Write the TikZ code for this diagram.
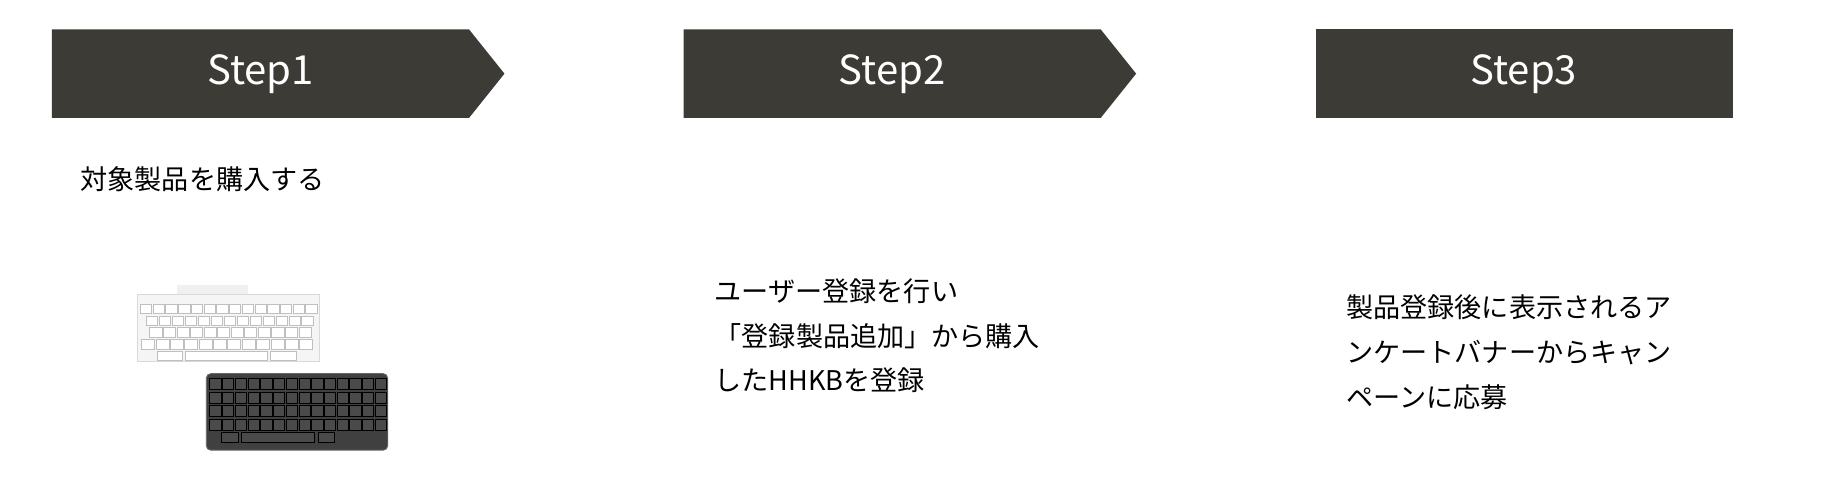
\documentclass[tikz,border=0pt]{standalone}
\usepackage{fontspec}
\setmainfont{Noto Sans CJK JP}
\usepackage{tikz}
\definecolor{stepgray}{HTML}{3D3B36}
\definecolor{keygray}{HTML}{4A4A4A}
\tikzset{
  stepbar/.style={fill=stepgray, draw=none},
  steplabel/.style={text=white, font=\fontsize{17}{20}\selectfont},
  desc/.style={anchor=north west, align=left, font=\fontsize{11.5}{19}\selectfont, inner sep=0pt},
  whitekey/.style={fill=white, draw=black!25, line width=0.2pt},
  blackkey/.style={fill=keygray, draw=black, line width=0.3pt}
}
\begin{document}
\begin{tikzpicture}[x=0.5pt, y=-0.5pt]
    \useasboundingbox (0,0) rectangle (1568,412);

    % step bars
    \fill[stepbar] (44,25) -- (398,25) -- (428,62.5) -- (398,100) -- (44,100) -- cycle;
    \fill[stepbar] (580,25) -- (934,25) -- (964,62.5) -- (934,100) -- (580,100) -- cycle;
    \fill[stepbar] (1117,25) rectangle (1470,100);
    \node[steplabel] (s1) at (221,62.5) {Step1};
    \node[steplabel] (s2) at (757,62.5) {Step2};
    \node[steplabel] (s3) at (1293,62.5) {Step3};

    % texts
    \node[desc] (t1) at (68,141) {対象製品を購入する};
    \node[desc] (t2) at (606,236) {ユーザー登録を行い\\「登録製品追加」から購入\\したHHKBを登録};
    \node[desc] (t3) at (1142,250) {製品登録後に表示されるア\\ンケートバナーからキャン\\ペーンに応募};

    % white keyboard
    \fill[black!6] (150,242) rectangle (210,250);
    \draw[fill=black!4, draw=black!15] (117,250) rectangle (271,307);
    \foreach \i in {0,...,13}
        \draw[whitekey] (119+\i*10.8,258) rectangle ++(9.6,8);
    \foreach \i in {0,...,12}
        \draw[whitekey] (124+\i*11,268) rectangle ++(9.8,8);
    \foreach \i in {0,...,11}
        \draw[whitekey] (127+\i*11.5,278) rectangle ++(10.3,8);
    \foreach \i in {0,...,11}
        \draw[whitekey] (120+\i*12.2,288) rectangle ++(11,8);
    \draw[whitekey] (133,298) rectangle ++(22,8);
    \draw[whitekey] (157,298) rectangle ++(70,8);
    \draw[whitekey] (229,298) rectangle ++(22,8);

    % black keyboard
    \draw[rounded corners=2pt, fill=black!75, draw=black!60] (175,317) rectangle (329,382);
    \foreach \r in {0,...,3}
        \foreach \i in {0,...,13}
            \draw[blackkey] (178+\i*10.8,321+\r*11.5) rectangle ++(9.6,9.5);
    \draw[blackkey] (188,367) rectangle ++(14,8);
    \draw[blackkey] (205,367) rectangle ++(62,8);
    \draw[blackkey] (270,367) rectangle ++(14,8);
\end{tikzpicture}
\end{document}
